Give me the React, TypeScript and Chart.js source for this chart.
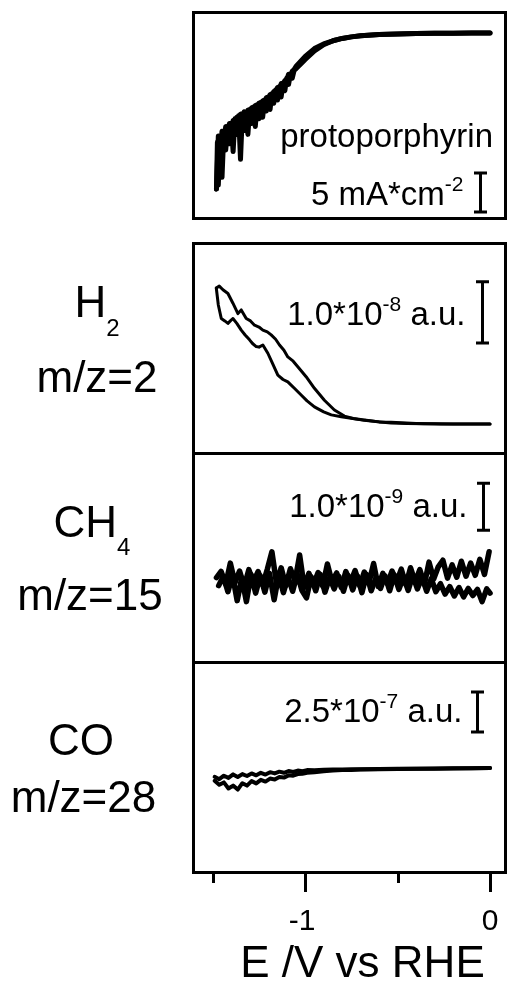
import React, { useEffect, useRef } from "react";
import { Chart, registerables } from "chart.js";

Chart.register(...registerables);

const FONT = '"Liberation Sans", Arial, Helvetica, sans-serif';

// ---------- shared x axis ----------
const X_MIN = -1.607;
const X_MAX = 0.081;
const X_MAJOR_TICKS = [-1, 0];
const X_MAJOR_LABELS = ["-1", "0"];
const X_MINOR_TICKS = [-1.5, -0.5];
const X_TITLE = "E /V vs RHE";

// ---------- panel 1: protoporphyrin current density (mA cm^-2) ----------
const P1_E_FWD = [
  0, -0.1, -0.2, -0.3, -0.4, -0.5, -0.6, -0.7, -0.75, -0.8, -0.85, -0.9, -0.95, -1.0,
  -1.05, -1.06, -1.07, -1.08, -1.09, -1.1, -1.11, -1.12, -1.13, -1.14, -1.15, -1.16, -1.17,
  -1.18, -1.19, -1.2, -1.21, -1.22, -1.23, -1.24, -1.25, -1.26, -1.27, -1.28, -1.29, -1.3,
  -1.31, -1.32, -1.33, -1.34, -1.35, -1.36, -1.37, -1.38, -1.39, -1.4, -1.41, -1.42, -1.43,
  -1.44, -1.45, -1.46, -1.47, -1.48,
];
const P1_J_FWD = [
  0, 0, -0.02, -0.05, -0.08, -0.12, -0.2, -0.35, -0.5, -0.7, -1.0, -1.4, -2.0, -3.0,
  -4.3, -4.7, -4.9, -5.4, -5.3, -6.0, -6.1, -6.6, -6.5, -7.2, -7.0, -7.6, -7.5,
  -8.2, -7.9, -8.6, -8.3, -9.0, -8.7, -9.4, -9.0, -9.8, -9.3, -10.2, -9.6, -10.6,
  -9.9, -11.2, -10.1, -11.5, -10.4, -12.0, -10.8, -12.6, -11.2, -13.0, -11.6, -12.8, -12.0,
  -13.6, -12.6, -15.0, -13.2, -20.0,
];
const P1_E_REV = [
  -1.48, -1.475, -1.47, -1.46, -1.45, -1.44, -1.43, -1.42, -1.41, -1.4, -1.39, -1.38, -1.37,
  -1.36, -1.35, -1.34, -1.33, -1.32, -1.31, -1.3, -1.29, -1.28, -1.27, -1.26, -1.25, -1.24,
  -1.23, -1.22, -1.21, -1.2, -1.19, -1.18, -1.17, -1.16, -1.15, -1.14, -1.13, -1.12, -1.11,
  -1.1, -1.09, -1.08, -1.07, -1.06, -1.05,
  -1.0, -0.95, -0.9, -0.85, -0.8, -0.75, -0.7, -0.6, -0.5, -0.4, -0.3, -0.2, -0.1, 0,
];
const P1_J_REV = [
  -20.0, -14.0, -19.5, -13.4, -18.5, -12.6, -15.0, -12.2, -14.2, -11.6, -15.2, -11.0, -13.0,
  -10.6, -16.2, -10.4, -12.5, -10.2, -13.0, -9.8, -11.6, -9.5, -12.0, -9.2, -11.0, -8.9,
  -10.8, -8.6, -10.0, -8.2, -9.8, -7.8, -9.0, -7.3, -8.6, -6.9, -8.2, -6.4, -7.4,
  -5.8, -6.6, -5.3, -5.8, -4.8, -4.6,
  -3.4, -2.3, -1.5, -1.0, -0.7, -0.5, -0.36, -0.2, -0.12, -0.07, -0.04, -0.02, 0, 0,
];

// ---------- panel 2: H2, m/z=2 (units of 1e-9 a.u.) ----------
const P2_E_CATH = [
  0, -0.1, -0.2, -0.3, -0.357, -0.45, -0.535, -0.607, -0.68, -0.751,
  -0.805, -0.859, -0.9, -0.95, -0.99, -1.022, -1.06, -1.094, -1.12, -1.148,
  -1.175, -1.202, -1.229, -1.25, -1.265, -1.285, -1.301, -1.325, -1.346, -1.37,
  -1.391, -1.405, -1.418, -1.435, -1.454, -1.47, -1.481,
];
const P2_S_CATH = [
  0, 0, 0.02, 0.03, 0.05, 0.1, 0.16, 0.38, 0.6, 0.93,
  1.2, 1.5, 2.0, 2.8, 3.8, 4.75, 5.9, 6.9, 7.3, 8.0,
  9.8, 11.6, 12.95, 12.6, 12.7, 13.2, 13.8, 14.6, 15.4, 16.5,
  17.3, 16.9, 16.5, 16.9, 17.3, 19.5, 22.3,
];
const P2_E_AN = [
  -1.481, -1.465, -1.445, -1.418, -1.391, -1.364, -1.346, -1.319, -1.296, -1.274,
  -1.25, -1.229, -1.205, -1.184, -1.16, -1.139, -1.115, -1.094, -1.065, -1.04,
  -0.995, -0.95, -0.896, -0.842, -0.788, -0.74, -0.68, -0.6, -0.535, -0.4,
  -0.265, -0.15, 0,
];
const P2_S_AN = [
  22.3, 22.6, 22.0, 21.4, 19.8, 18.1, 18.7, 17.3, 16.9, 16.2,
  15.9, 15.4, 15.1, 14.6, 13.9, 12.95, 12.1, 11.0, 10.3, 9.4,
  7.75, 5.85, 3.9, 2.3, 1.3, 0.9, 0.66, 0.35, 0.27, 0.1,
  0, 0, 0,
];

// ---------- panel 3: CH4, m/z=15 (units of 1e-10 a.u.) ----------
const P3_E_A = [
  -1.48, -1.455, -1.43, -1.405, -1.38, -1.355, -1.33, -1.305, -1.28, -1.255,
  -1.23, -1.205, -1.18, -1.155, -1.13, -1.105, -1.08, -1.055, -1.03, -1.005,
  -0.98, -0.955, -0.93, -0.905, -0.88, -0.855, -0.83, -0.805, -0.78, -0.755,
  -0.73, -0.705, -0.68, -0.655, -0.63, -0.605, -0.58, -0.555, -0.53, -0.505,
  -0.48, -0.455, -0.43, -0.405, -0.38, -0.355, -0.33, -0.305, -0.28, -0.255,
  -0.23, -0.205, -0.18, -0.155, -0.13, -0.105, -0.08, -0.055, -0.03, -0.005,
];
const P3_S_A = [
  0.5, 1.8, -0.9, 3.6, -0.6, 1.9, -1.4, 2.2, -0.4, 1.8,
  -1.0, 2.3, 6.0, -0.8, 2.6, -1.2, 2.4, -0.2, 5.3, -1.6,
  1.4, -0.9, 1.6, -1.3, 3.4, -0.4, 1.5, -1.6, 1.8, -0.5,
  2.0, -1.2, 1.7, -0.6, 3.5, -1.4, 1.4, -0.8, 1.9, -0.3,
  2.3, -1.0, 2.6, -0.4, 2.2, -0.9, 3.8, 0.2, 2.8, 4.2,
  0.4, 3.2, 0.6, 4.0, 0.8, 3.6, 1.0, 4.4, 1.2, 6.0,
];
const P3_E_B = [
  -1.468, -1.443, -1.418, -1.393, -1.368, -1.343, -1.318, -1.293, -1.268, -1.243,
  -1.218, -1.193, -1.168, -1.143, -1.118, -1.093, -1.068, -1.043, -1.018, -0.993,
  -0.968, -0.943, -0.918, -0.893, -0.868, -0.843, -0.818, -0.793, -0.768, -0.743,
  -0.718, -0.693, -0.668, -0.643, -0.618, -0.593, -0.568, -0.543, -0.518, -0.493,
  -0.468, -0.443, -0.418, -0.393, -0.368, -0.343, -0.318, -0.293, -0.268, -0.243,
  -0.218, -0.193, -0.168, -0.143, -0.118, -0.093, -0.068, -0.043, -0.018, 0,
];
const P3_S_B = [
  -1.2, 0.8, -2.5, 1.0, -4.4, 0.5, -4.6, 1.2, -2.8, 0.9,
  -2.6, 1.4, -4.2, 1.1, -2.7, 0.6, -2.4, 1.3, -2.2, -3.8,
  0.7, -2.3, 1.2, -2.6, 0.5, -1.9, 0.8, -2.4, 1.0, -2.1,
  0.9, -2.7, 1.2, -2.3, 0.4, -1.8, 0.9, -2.3, 1.1, -2.0,
  0.7, -2.2, 1.0, -1.9, 0.6, -2.4, 0.3, -2.5, -0.8, -3.0,
  -1.4, -3.4, -1.6, -3.6, -1.8, -3.3, -2.0, -4.6, -1.9, -2.8,
];

// ---------- panel 4: CO, m/z=28 (units of 1e-8 a.u.) ----------
const P4_E = [
  -1.49, -1.465, -1.44, -1.415, -1.39, -1.365, -1.34, -1.315, -1.29, -1.265,
  -1.24, -1.215, -1.19, -1.165, -1.14, -1.115, -1.09, -1.065, -1.04, -1.015,
  -0.99, -0.95, -0.9, -0.85, -0.8, -0.75, -0.7, -0.6, -0.5, -0.4,
  -0.3, -0.2, -0.1, 0,
];
const P4_S_A = [
  -5.5, -7.0, -4.8, -6.2, -4.0, -5.6, -3.8, -5.0, -3.4, -4.6,
  -3.0, -4.1, -2.6, -3.4, -2.3, -3.0, -1.9, -2.5, -1.6, -2.0,
  -1.3, -1.4, -1.1, -1.0, -0.9, -0.8, -0.8, -0.6, -0.5, -0.4,
  -0.3, -0.2, -0.1, 0,
];
const P4_S_B = [
  -8.0, -10.5, -9.0, -12.8, -11.0, -13.5, -9.5, -11.0, -8.2, -9.6,
  -7.4, -8.5, -6.6, -7.2, -5.6, -6.0, -4.6, -4.8, -3.8, -3.6,
  -3.0, -2.6, -2.0, -1.6, -1.3, -1.2, -1.0, -0.8, -0.6, -0.5,
  -0.4, -0.3, -0.2, 0,
];

// ---------- scale bars (data units) ----------
const P1_BAR = { e: -0.054, lo: -22.95, hi: -17.95 }; // 5 mA cm^-2
const P2_BAR = { e: -0.043, lo: 13.3, hi: 23.3 }; // 1.0e-8
const P3_BAR = { e: -0.038, lo: 10.6, hi: 20.6 }; // 1.0e-9
const P4_BAR = { e: -0.07, lo: 22.5, hi: 47.5 }; // 2.5e-7

type Seg = { t: string; size: number; dy?: number };
type Series = { x: number[]; y: number[]; width: number };
type PanelCfg = {
  top: number;
  height: number;
  padTop: number;
  padBottom: number;
  yMin: number;
  yMax: number;
  series: Series[];
  bar: { e: number; lo: number; hi: number };
  barText: Seg[];
  barGap: number;
  barDy: number;
  extra?: { segs: Seg[]; fromRight: number; fromTop: number };
  left: { segs: Seg[]; x: number; fromTop: number }[];
  xAxis?: boolean;
};

const MAIN = 33;
const SUP = 21;
const LBL = 44;
const SUB = 24;

const PANELS: PanelCfg[] = [
  {
    top: 0, height: 232, padTop: 12, padBottom: 14,
    yMin: -23.72, yMax: 2.69,
    series: [
      { x: P1_E_FWD, y: P1_J_FWD, width: 5 },
      { x: P1_E_REV, y: P1_J_REV, width: 5 },
    ],
    bar: P1_BAR,
    barText: [{ t: "5 mA*cm", size: MAIN }, { t: "-2", size: SUP, dy: -14 }],
    barGap: 17, barDy: 12.5,
    extra: { segs: [{ t: "protoporphyrin", size: MAIN }], fromRight: 12, fromTop: 135 },
    left: [],
  },
  {
    top: 230, height: 226, padTop: 13, padBottom: 3,
    yMin: -4.75, yMax: 29.67,
    series: [
      { x: P2_E_CATH, y: P2_S_CATH, width: 3 },
      { x: P2_E_AN, y: P2_S_AN, width: 3 },
    ],
    bar: P2_BAR,
    barText: [
      { t: "1.0*10", size: MAIN },
      { t: "-8", size: SUP, dy: -14 },
      { t: " a.u.", size: MAIN },
    ],
    barGap: 17, barDy: 12.5,
    left: [
      { segs: [{ t: "H", size: LBL }, { t: "2", size: SUB, dy: 19 }], x: 97, fromTop: 74 },
      { segs: [{ t: "m/z=2", size: LBL }], x: 97, fromTop: 149 },
    ],
  },
  {
    top: 450, height: 215, padTop: 3, padBottom: 3,
    yMin: -17.45, yMax: 27.02,
    series: [
      { x: P3_E_A, y: P3_S_A, width: 5.5 },
      { x: P3_E_B, y: P3_S_B, width: 5.5 },
    ],
    bar: P3_BAR,
    barText: [
      { t: "1.0*10", size: MAIN },
      { t: "-9", size: SUP, dy: -14 },
      { t: " a.u.", size: MAIN },
    ],
    barGap: 16, barDy: 10.5,
    left: [
      { segs: [{ t: "CH", size: LBL }, { t: "4", size: SUB, dy: 18 }], x: 92, fromTop: 84 },
      { segs: [{ t: "m/z=15", size: LBL }], x: 90, fromTop: 157 },
    ],
  },
  {
    top: 659, height: 323, padTop: 3, padBottom: 110,
    yMin: -65, yMax: 66.25,
    series: [
      { x: P4_E, y: P4_S_A, width: 4 },
      { x: P4_E, y: P4_S_B, width: 4 },
    ],
    bar: P4_BAR,
    barText: [
      { t: "2.5*10", size: MAIN },
      { t: "-7", size: SUP, dy: -14 },
      { t: " a.u.", size: MAIN },
    ],
    barGap: 15, barDy: 10,
    left: [
      { segs: [{ t: "CO", size: LBL }], x: 81, fromTop: 93 },
      { segs: [{ t: "m/z=28", size: LBL }], x: 83.5, fromTop: 150 },
    ],
    xAxis: true,
  },
];

function zip(xs: number[], ys: number[]) {
  const n = Math.min(xs.length, ys.length);
  const out: { x: number; y: number }[] = [];
  for (let i = 0; i < n; i++) out.push({ x: xs[i], y: ys[i] });
  return out;
}

function drawRich(ctx: CanvasRenderingContext2D, segs: Seg[], x: number, y: number, align: "left" | "center" | "right") {
  let w = 0;
  const widths: number[] = [];
  for (const s of segs) {
    ctx.font = `${s.size}px ${FONT}`;
    const m = ctx.measureText(s.t).width;
    widths.push(m);
    w += m;
  }
  let cx = align === "left" ? x : align === "center" ? x - w / 2 : x - w;
  ctx.textAlign = "left";
  ctx.textBaseline = "alphabetic";
  segs.forEach((s, i) => {
    ctx.font = `${s.size}px ${FONT}`;
    ctx.fillText(s.t, cx, y + (s.dy || 0));
    cx += widths[i];
  });
}

function panelPlugin(cfg: PanelCfg) {
  return {
    id: "panelDecor",
    afterDraw(chart: any) {
      const ctx: CanvasRenderingContext2D = chart.ctx;
      const a = chart.chartArea;
      const xs = chart.scales.x;
      const ys = chart.scales.y;
      ctx.save();
      ctx.strokeStyle = "#000";
      ctx.fillStyle = "#000";
      ctx.lineCap = "butt";

      // frame
      ctx.lineWidth = 3;
      ctx.strokeRect(a.left + 0.5, a.top + 0.5, a.right - a.left, a.bottom - a.top);

      // scale bar
      const bx = Math.round(xs.getPixelForValue(cfg.bar.e)) + 0.5;
      const y1 = ys.getPixelForValue(cfg.bar.hi);
      const y2 = ys.getPixelForValue(cfg.bar.lo);
      ctx.lineWidth = 3;
      ctx.beginPath();
      ctx.moveTo(bx, y1);
      ctx.lineTo(bx, y2);
      ctx.moveTo(bx - 6.5, y1);
      ctx.lineTo(bx + 6.5, y1);
      ctx.moveTo(bx - 6.5, y2);
      ctx.lineTo(bx + 6.5, y2);
      ctx.stroke();
      drawRich(ctx, cfg.barText, bx - cfg.barGap, (y1 + y2) / 2 + cfg.barDy, "right");

      if (cfg.extra) {
        drawRich(ctx, cfg.extra.segs, a.right - cfg.extra.fromRight, a.top + cfg.extra.fromTop, "right");
      }

      for (const l of cfg.left) {
        drawRich(ctx, l.segs, l.x, a.top + l.fromTop, "center");
      }

      if (cfg.xAxis) {
        const base = a.bottom + 2;
        ctx.lineWidth = 3;
        ctx.beginPath();
        for (const v of X_MAJOR_TICKS) {
          const px = Math.round(xs.getPixelForValue(v)) + 0.5;
          ctx.moveTo(px, base);
          ctx.lineTo(px, base + 18);
        }
        for (const v of X_MINOR_TICKS) {
          const px = Math.round(xs.getPixelForValue(v)) + 0.5;
          ctx.moveTo(px, base);
          ctx.lineTo(px, base + 9);
        }
        ctx.stroke();
        ctx.font = `30px ${FONT}`;
        ctx.textAlign = "center";
        ctx.textBaseline = "alphabetic";
        X_MAJOR_TICKS.forEach((v, i) => {
          const px = xs.getPixelForValue(v);
          ctx.fillText(X_MAJOR_LABELS[i], px - (X_MAJOR_LABELS[i].startsWith("-") ? 3 : 0), a.bottom + 58);
        });
        drawRich(ctx, [{ t: X_TITLE, size: LBL }], a.left + 169.5, a.bottom + 105, "center");
      }
      ctx.restore();
    },
  };
}

function Panel({ cfg }: { cfg: PanelCfg }) {
  const ref = useRef<HTMLCanvasElement>(null);
  useEffect(() => {
    const canvas = ref.current;
    if (!canvas) return;
    const chart = new Chart(canvas, {
      type: "line",
      data: {
        datasets: cfg.series.map((s) => ({
          data: zip(s.x, s.y),
          borderColor: "#000",
          backgroundColor: "#000",
          borderWidth: s.width,
          pointRadius: 0,
          pointHoverRadius: 0,
          tension: 0,
          fill: false,
          borderJoinStyle: "round",
          borderCapStyle: "round",
        })),
      },
      options: {
        responsive: false,
        maintainAspectRatio: false,
        animation: false,
        devicePixelRatio: 1,
        events: [],
        layout: { padding: { left: 193, right: 2, top: cfg.padTop, bottom: cfg.padBottom } },
        scales: {
          x: { type: "linear", min: X_MIN, max: X_MAX, display: false },
          y: { type: "linear", min: cfg.yMin, max: cfg.yMax, display: false },
        },
        plugins: {
          legend: { display: false },
          tooltip: { enabled: false },
        },
      } as any,
      plugins: [panelPlugin(cfg)],
    } as any);
    return () => chart.destroy();
  }, [cfg]);
  return (
    <canvas
      ref={ref}
      width={507}
      height={cfg.height}
      style={{ position: "absolute", left: 0, top: cfg.top, width: 507, height: cfg.height, display: "block" }}
    />
  );
}

export default function App() {
  return (
    <div style={{ position: "absolute", left: 0, top: 0, width: 507, height: 982, background: "#fff", overflow: "hidden" }}>
      {PANELS.map((p, i) => (
        <Panel key={i} cfg={p} />
      ))}
    </div>
  );
}
